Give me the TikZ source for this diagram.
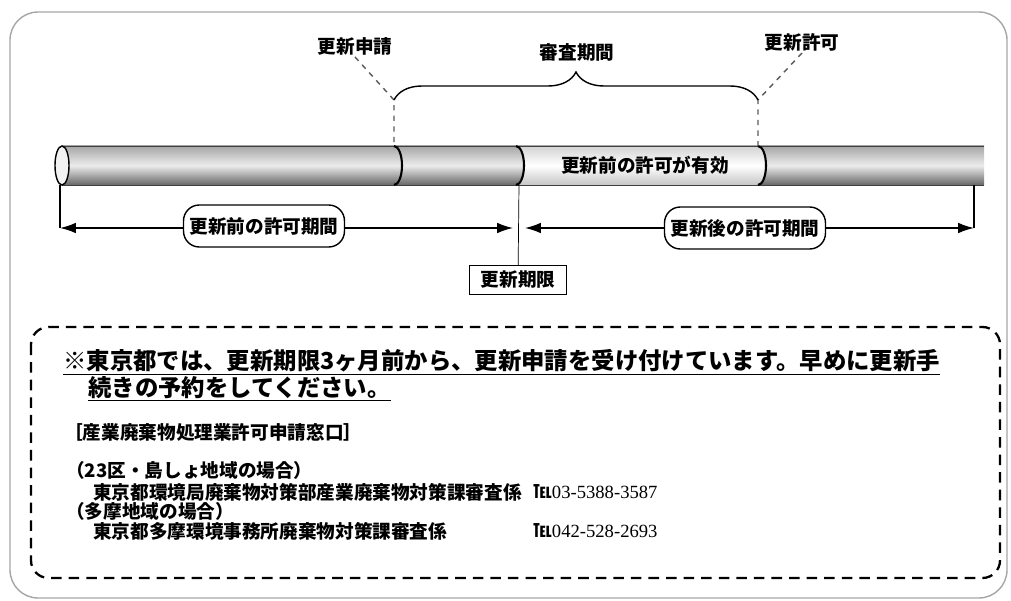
\documentclass[tikz,border=0pt]{standalone}
\usepackage{fontspec}
\newfontfamily\cjk{Noto Sans CJK JP}
\newfontfamily\telfont{Liberation Serif}
\usetikzlibrary{arrows.meta,decorations.pathreplacing}

\tikzset{
  lbl/.style={font=\cjk\bfseries\fontsize{10.6pt}{12pt}\selectfont, inner sep=1pt},
  pill/.style={lbl, draw, thick, fill=white, rounded corners=9pt, minimum width=3.22cm, minimum height=0.84cm},
  darktube/.style={shading=axis, top color=gray!70, bottom color=gray!80!black, middle color=gray!15},
  lighttube/.style={shading=axis, top color=gray!35, bottom color=gray!45, middle color=white},
  leader/.style={dashed, thick, gray!70!black},
  span/.style={{Latex[length=9pt,width=6pt]}-{Latex[length=9pt,width=6pt]}, thick},
  note/.style={font=\cjk\bfseries\fontsize{10.6pt}{12pt}\selectfont, anchor=west, inner sep=0pt},
  bignote/.style={font=\cjk\bfseries\fontsize{13.3pt}{15pt}\selectfont, anchor=west, inner sep=0pt},
}

\begin{document}
\begin{tikzpicture}[x=0.02cm, y=-0.02cm]
\useasboundingbox (0,0) rectangle (1011,601);

% frame
\draw[gray!70, line width=0.8pt, rounded corners=16pt] (10,12) rectangle (1007,598);

% tube
\shade[darktube] (62,146) rectangle (984,185);
\shade[lighttube] (516,146) arc (-90:90:8 and 19.5) -- (758,185) arc (90:-90:8 and 19.5) -- cycle;
\draw[gray!50!black] (62,146) -- (984,146);
\draw[gray!50!black] (62,185) -- (984,185);
\draw[fill=gray!10, thick] (62,165.5) ellipse (7 and 19.5);
\draw[very thick] (394,146) arc (-90:90:8 and 19.5);
\draw[very thick] (516,146) arc (-90:90:8 and 19.5);
\draw[very thick] (758,146) arc (-90:90:8 and 19.5);

\node (valid) at (645,165) [lbl] {更新前の許可が有効};

% application, review, permission
\node (req) at (355,46) [lbl] {更新申請};
\node (exam) at (577,52) [lbl] {審査期間};
\node (perm) at (802,42) [lbl] {更新許可};
\coordinate (reqtop) at (394,100);
\coordinate (reqbot) at (394,146);
\coordinate (permtop) at (758,100);
\coordinate (permbot) at (758,146);
\draw[leader] (req.south) -- (reqtop) -- (reqbot);
\draw[leader] (perm.south) -- (permtop) -- (permbot);
\draw[thick, decorate, decoration={brace, amplitude=0.56cm}] (reqtop) -- (permtop);

% permit periods
\coordinate (tubeL) at (60,185);
\coordinate (tubeM) at (519,185);
\coordinate (tubeR) at (974,185);
\coordinate (la) at (60,228);
\coordinate (lb) at (513,228);
\coordinate (ra) at (525,228);
\coordinate (rb) at (974,228);
\draw[thick] (tubeL) -- (la);
\draw[thick] (tubeR) -- (rb);
\draw[span] (la) -- (lb);
\draw[span] (ra) -- (rb);
\node (before) at (264,226) [pill] {更新前の許可期間};
\node (after) at (745,228) [pill] {更新後の許可期間};
\node (limit) at (518,280) [lbl, draw, thick, fill=white, minimum width=1.95cm, minimum height=0.58cm] {更新期限};
\draw (tubeM) -- (limit);

% notice
\draw[line width=1.3pt, dash pattern=on 6pt off 4pt, rounded corners=10pt] (31,327) rectangle (1000,578);
\node (note1) at (63,362) [bignote] {\underline{※東京都では、更新期限3ヶ月前から、更新申請を受け付けています。早めに更新手}};
\node (note2) at (88,389) [bignote] {\underline{続きの予約をしてください。}};
\node (office) at (64,432) [note] {［産業廃棄物処理業許可申請窓口］};
\node (ward) at (66,470) [note] {（23区・島しょ地域の場合）};
\node (ward2) at (93,492) [note] {東京都環境局廃棄物対策部産業廃棄物対策課審査係};
\node (tel1) at (533,492) [note] {℡{\telfont\mdseries 03-5388-3587}};
\node (tama) at (66,511) [note] {（多摩地域の場合）};
\node (tama2) at (93,531) [note] {東京都多摩環境事務所廃棄物対策課審査係};
\node (tel2) at (533,531) [note] {℡{\telfont\mdseries 042-528-2693}};
\end{tikzpicture}
\end{document}
